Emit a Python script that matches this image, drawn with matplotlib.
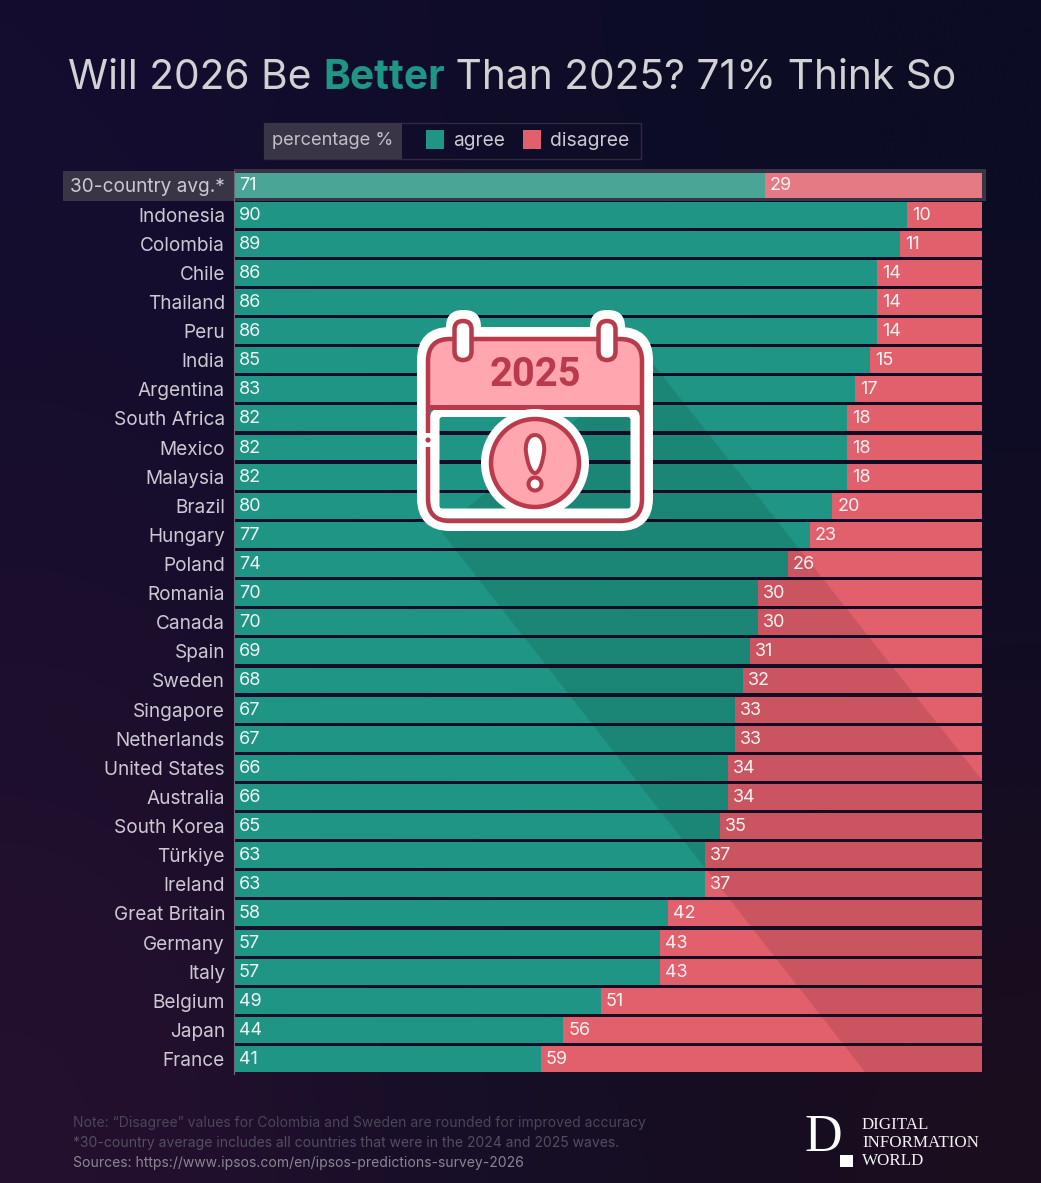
import numpy as np
import matplotlib
matplotlib.use("Agg")
import matplotlib.pyplot as plt
from matplotlib.path import Path
from matplotlib.patches import Rectangle, FancyBboxPatch, Circle, PathPatch, Polygon

countries = ["30-country avg.*", "Indonesia", "Colombia", "Chile", "Thailand", "Peru", "India",
             "Argentina", "South Africa", "Mexico", "Malaysia", "Brazil", "Hungary", "Poland",
             "Romania", "Canada", "Spain", "Sweden", "Singapore", "Netherlands", "United States",
             "Australia", "South Korea", "Türkiye", "Ireland", "Great Britain", "Germany", "Italy",
             "Belgium", "Japan", "France"]
agree = [71, 90, 89, 86, 86, 86, 85, 83, 82, 82, 82, 80, 77, 74, 70, 70, 69, 68, 67, 67, 66, 66,
         65, 63, 63, 58, 57, 57, 49, 44, 41]
disagree = [29, 10, 11, 14, 14, 14, 15, 17, 18, 18, 18, 20, 23, 26, 30, 30, 31, 32, 33, 33, 34, 34,
            35, 37, 37, 42, 43, 43, 51, 56, 59]

title_parts = ["Will 2026 Be ", "Better", " Than 2025? 71% Think So"]
notes = ["Note: “Disagree” values for Colombia and Sweden are rounded for improved accuracy",
         "*30-country average includes all countries that were in the 2024 and 2025 waves.",
         "Sources: https://www.ipsos.com/en/ipsos-predictions-survey-2026"]

TEAL = "#1f9585"
RED = "#e25f6c"
TEAL_LIGHT = "#4aa596"
RED_LIGHT = "#e57a85"
BOX = "#3a3546"
LABEL = "#cdc9d2"
ICON_RED = "#b93a4a"
ICON_PINK = "#ffa6af"
W, H = 1041, 1183

plt.rcParams["font.family"] = ["Inter", "DejaVu Sans"]


def px(n):
    return n * 72 / 100


fig = plt.figure(figsize=(W / 100, H / 100), dpi=100)

# full figure layer in pixel coordinates for background and decoration
bg = fig.add_axes([0, 0, 1, 1], zorder=0)
bg.axis("off")
grid = np.array([[[0x14, 0x0d, 0x30], [0x0e, 0x0c, 0x28], [0x0c, 0x0c, 0x24]],
                 [[0x1a, 0x0e, 0x2c], [0x12, 0x0c, 0x28], [0x10, 0x0c, 0x26]],
                 [[0x25, 0x10, 0x2f], [0x12, 0x0e, 0x26], [0x1b, 0x0e, 0x1e]]]) / 255
bg.imshow(grid, extent=[0, W, H, 0], interpolation="bicubic", aspect="auto")
bg.set_xlim(0, W)
bg.set_ylim(H, 0)

# highlight strip behind the average row
bg.add_patch(Rectangle((63, 171), 171, 30, fc=BOX, ec="none"))
bg.add_patch(Rectangle((234, 169), 752, 32, fc=BOX, ec="none"))

# overlay layer in pixels
top = fig.add_axes([0, 0, 1, 1], zorder=2)
top.set_xlim(0, W)
top.set_ylim(H, 0)
top.axis("off")
top.patch.set_alpha(0)

# bars
ax = fig.add_axes([234 / W, 1 - 1073.6 / H, 748 / W, (1073.6 - 170.9) / H], zorder=1)
ax.patch.set_alpha(0)
y = np.arange(len(countries))
agree_colors = [TEAL_LIGHT] + [TEAL] * (len(y) - 1)
disagree_colors = [RED_LIGHT] + [RED] * (len(y) - 1)
bars_a = ax.barh(y, agree, height=0.89, color=agree_colors, linewidth=0, zorder=1)
bars_d = ax.barh(y, disagree, left=agree, height=0.89, color=disagree_colors, linewidth=0, zorder=1)
ax.set_xlim(0, 100)
ax.set_ylim(len(y) - 0.5, -0.5)
ax.set_xticks([])
ax.set_yticks(y, countries, fontsize=px(19), color=LABEL)
ax.tick_params(axis="y", length=0, pad=px(9))
for s in ["top", "right", "bottom"]:
    ax.spines[s].set_visible(False)
ax.spines["left"].set_color("#6d6a78")
ax.spines["left"].set_linewidth(0.8)

for i in y:
    ax.annotate(str(agree[i]), (0, i), xytext=(px(5), px(-0.5)), textcoords="offset points",
                va="center", color="#f4f4f4", fontsize=px(18), zorder=3)
    ax.annotate(str(disagree[i]), (agree[i], i), xytext=(px(5), px(-0.5)), textcoords="offset points",
                va="center", color="#f4f4f4", fontsize=px(18), zorder=3)

# long shadow of the icon, only visible on the bars
shadow = Polygon([(650, 360), (982, 780), (982, 1072), (865, 1072), (440, 530)],
                 fc="#000000", alpha=0.105, ec="none", zorder=2, transform=top.transData)
ax.add_patch(shadow)
verts, codes = [], []
for b in list(bars_a) + list(bars_d):
    p = b.get_path().transformed(b.get_transform()).transformed(top.transData.inverted())
    verts.extend(p.vertices)
    codes.extend(p.codes)
clip = PathPatch(Path(verts, codes), transform=top.transData, fc="none", ec="none")
top.add_patch(clip)
shadow.set_clip_path(clip)


def rrect(x0, y0, x1, y1, r, **kw):
    patch = FancyBboxPatch((x0 + r, y0 + r), x1 - x0 - 2 * r, y1 - y0 - 2 * r,
                           boxstyle="round,pad=%f,rounding_size=%f" % (r, r), **kw)
    top.add_patch(patch)
    return patch


# calendar icon
rrect(446, 310, 481, 360, 17, fc="white", ec="none", zorder=3)
rrect(590, 310, 625, 360, 17, fc="white", ec="none", zorder=3)
rrect(422, 332, 648, 526, 28, fc="none", ec="white", lw=px(10), zorder=3)
header = rrect(428, 339, 642, 440, 22, fc=ICON_PINK, ec="none", zorder=4)
header.set_clip_path(Rectangle((420, 330), 230, 77, transform=top.transData))
rrect(434.5, 412, 635.5, 513.5, 8, fc="none", ec="white", lw=px(10), zorder=4)
rrect(428, 339, 642, 521, 22, fc="none", ec=ICON_RED, lw=px(4.5), zorder=5)
top.plot([428, 642], [407, 407], color=ICON_RED, lw=px(5), zorder=5, solid_capstyle="butt")
top.add_patch(Rectangle((424, 433), 10, 14, fc="white", ec="none", zorder=6))
top.add_patch(Circle((428, 440), 2.6, fc=ICON_RED, ec="none", zorder=7))
for cx in [463, 607]:
    rrect(cx - 8.5, 321, cx + 8.5, 360, 8.5, fc="white", ec=ICON_RED, lw=px(4.5), zorder=6)
top.text(535, 375, "2025", ha="center", va="center", color=ICON_RED, family="Roboto",
         fontsize=px(40), fontweight="bold", zorder=6)
top.add_patch(Circle((535, 463), 54, fc="white", ec="none", zorder=6))
top.add_patch(Circle((535, 463), 44, fc=ICON_PINK, ec=ICON_RED, lw=px(4.5), zorder=7))
drop = Path([(535, 435), (543, 435), (545, 446), (544, 452), (543, 460), (540, 473), (535, 473),
             (530, 473), (527, 460), (526, 452), (525, 446), (527, 435), (535, 435)],
            [Path.MOVETO] + [Path.CURVE4] * 12)
top.add_patch(PathPatch(drop, fc="white", ec=ICON_RED, lw=px(4), zorder=8))
top.add_patch(Circle((535, 484), 6.5, fc="white", ec=ICON_RED, lw=px(4), zorder=8))

# title, placed part by part
r = fig.canvas.get_renderer()
tx = 68
for i, part in enumerate(title_parts):
    t = top.text(tx, 78, part.replace(" ", "\u00a0"), fontsize=px(40.7),
                 color="#1f9585" if i == 1 else "#d2d1d4",
                 fontweight="bold" if i == 1 else "normal", va="center", ha="left")
    tx = top.transData.inverted().transform(t.get_window_extent(r))[1, 0]

# legend
top.add_patch(Rectangle((264, 123), 377, 36, fc="none", ec="#2e2a40", lw=1))
top.add_patch(Rectangle((264, 123), 138, 36, fc=BOX, ec="none"))
top.text(272, 140, "percentage %", fontsize=px(18.3), color="#c3bfc9", va="center")
top.add_patch(Rectangle((426, 130), 18, 19, fc=TEAL, ec="none"))
top.text(453, 141, "agree", fontsize=px(19), color=LABEL, va="center")
top.add_patch(Rectangle((523, 130), 18, 19, fc=RED, ec="none"))
top.text(550, 141, "disagree", fontsize=px(19.3), color=LABEL, va="center")

# footer
note_colors = ["#4b4658", "#544f60", "#8b8693"]
for yy, line, col in zip([1123, 1143, 1163], notes, note_colors):
    top.text(73, yy, line, fontsize=px(13.95), color=col, va="center")

# logo
top.text(805, 1138, "D", family="Liberation Serif", fontsize=px(52), color="white",
         va="center", ha="left")
top.add_patch(Rectangle((840, 1155), 13, 12, fc="white", ec="none"))
for yy, word in zip([1125, 1143, 1161], ["DIGITAL", "INFORMATION", "WORLD"]):
    top.text(862, yy, word, family="Liberation Serif", fontsize=px(17), color="#f2f2f2", va="center")

fig.savefig("out.png", dpi=100)
